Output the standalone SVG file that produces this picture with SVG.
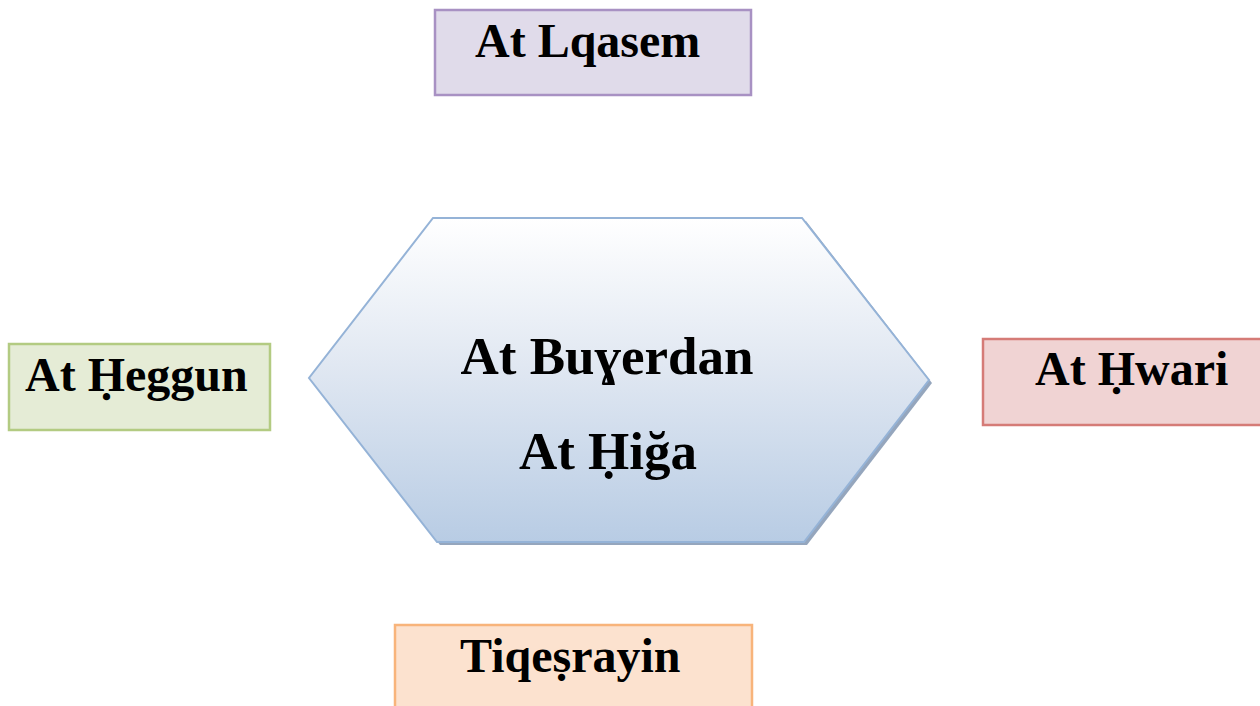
<svg xmlns="http://www.w3.org/2000/svg" width="1260" height="706" viewBox="0 0 1260 706">
<style>
text{font-family:"Liberation Serif","DejaVu Serif",serif;font-weight:bold;fill:#000}
.box{stroke-width:2.5}
.lbl{font-size:48px}
.ctr{font-size:53px;text-anchor:middle}
</style>
<defs>
<linearGradient id="hexg" x1="0" y1="0" x2="0" y2="1">
<stop offset="0" stop-color="#ffffff"/>
<stop offset="0.45" stop-color="#e1e8f2"/>
<stop offset="1" stop-color="#b8cce4"/>
</linearGradient>
</defs>
<rect width="1260" height="706" fill="#ffffff"/>
<g id="connectors"></g>
<g id="center">
<polygon points="437,221 806,221 932,383 807,545 440,545 312,381" fill="#95a6bd"/>
<polygon points="433,218 802,218 929,380 804,542 437,542 309,378" fill="url(#hexg)" stroke="#95b3d7" stroke-width="2"/>
<text class="ctr" x="607" y="374">At Buɣerdan</text>
<text class="ctr" x="608" y="469">At Ḥiğa</text>
</g>
<g id="n-lqasem">
<rect class="box" x="435" y="10" width="316" height="85" fill="#e0dbea" stroke="#a891c3"/>
<text class="lbl" x="475" y="57">At Lqasem</text>
</g>
<g id="n-heggun">
<rect class="box" x="9" y="344" width="261" height="86" fill="#e5ecd6" stroke="#b3cb82"/>
<text class="lbl" x="25" y="391">At Ḥeggun</text>
</g>
<g id="n-hwari">
<rect class="box" x="983" y="339" width="290" height="86" fill="#f0d3d3" stroke="#d57b77"/>
<text class="lbl" x="1035" y="385">At Ḥwari</text>
</g>
<g id="n-tiqesrayin">
<rect class="box" x="395" y="625" width="357" height="95" fill="#fce2cf" stroke="#f8b47b"/>
<text class="lbl" x="460" y="672">Tiqeṣrayin</text>
</g>
</svg>
